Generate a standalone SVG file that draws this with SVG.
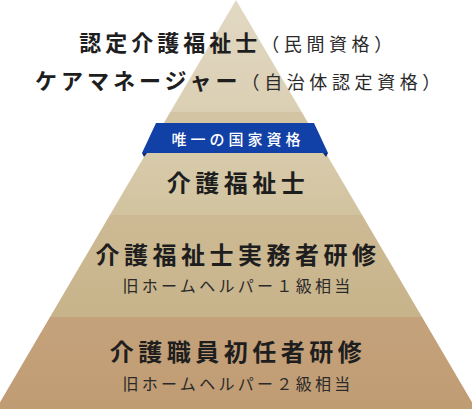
<svg xmlns="http://www.w3.org/2000/svg" width="472" height="409" viewBox="0 0 472 409">
  <defs>
    <clipPath id="pyr">
      <polygon points="236,0 -4,409 476,409"/>
    </clipPath>
    <linearGradient id="g1" x1="0" y1="0" x2="0" y2="1">
      <stop offset="0" stop-color="#e2d9c4"/>
      <stop offset="1" stop-color="#dbcfb3"/>
    </linearGradient>
    <linearGradient id="g2" x1="0" y1="0" x2="0" y2="1">
      <stop offset="0" stop-color="#d8cbab"/>
      <stop offset="1" stop-color="#d2c39f"/>
    </linearGradient>
    <linearGradient id="g3" x1="0" y1="0" x2="0" y2="1">
      <stop offset="0" stop-color="#cdba94"/>
      <stop offset="1" stop-color="#c8b48b"/>
    </linearGradient>
    <linearGradient id="g4" x1="0" y1="0" x2="0" y2="1">
      <stop offset="0" stop-color="#c4a27b"/>
      <stop offset="1" stop-color="#c09c73"/>
    </linearGradient>
    <style>
      .t { font-family: "Noto Sans CJK JP", "Noto Sans", sans-serif; text-anchor: middle; }
      .h { font-size: 22px; font-weight: 700; fill: #1e1e1e; letter-spacing: 4px; }
      .p { font-size: 18px; font-weight: 400; fill: #2a2a2a; letter-spacing: 4.6px; }
      .m { font-size: 24px; font-weight: 700; fill: #1e1e1e; letter-spacing: 4.5px; }
      .s { font-size: 16px; font-weight: 400; fill: #2a2a2a; letter-spacing: 3.3px; }
      .b { font-size: 15px; font-weight: 500; fill: #ffffff; letter-spacing: 4px; }
    </style>
  </defs>

  <g id="pyramid" clip-path="url(#pyr)">
    <rect x="0" y="0" width="472" height="112" fill="url(#g1)"/>
    <rect x="0" y="112" width="472" height="12" fill="#d3c5a3"/>
    <rect x="0" y="153" width="472" height="62" fill="url(#g2)"/>
    <rect x="0" y="215" width="472" height="102" fill="url(#g3)"/>
    <rect x="0" y="317" width="472" height="92" fill="url(#g4)"/>
  </g>

  <g id="level-top">
    <text class="t" x="238" y="51"><tspan class="h">認定介護福祉士</tspan><tspan class="p">（民間資格）</tspan></text>
    <text class="t" x="240" y="89"><tspan class="h">ケアマネージャー</tspan><tspan class="p">（自治体認定資格）</tspan></text>
  </g>

  <g id="badge">
    <polygon points="156,123 314,123 328,153 142,153" fill="#1140a6"/>
    <polygon points="142,153 147,153 144,157" fill="#0a2c78"/>
    <polygon points="328,153 323,153 326,157" fill="#0a2c78"/>
    <text class="t b" x="238" y="145">唯一の国家資格</text>
  </g>

  <g id="level-2">
    <text class="t m" x="238" y="192">介護福祉士</text>
  </g>

  <g id="level-3">
    <text class="t m" x="238" y="264">介護福祉士実務者研修</text>
    <text class="t s" x="238" y="292">旧ホームヘルパー１級相当</text>
  </g>

  <g id="level-4">
    <text class="t m" x="238" y="361">介護職員初任者研修</text>
    <text class="t s" x="238" y="390">旧ホームヘルパー２級相当</text>
  </g>
</svg>
